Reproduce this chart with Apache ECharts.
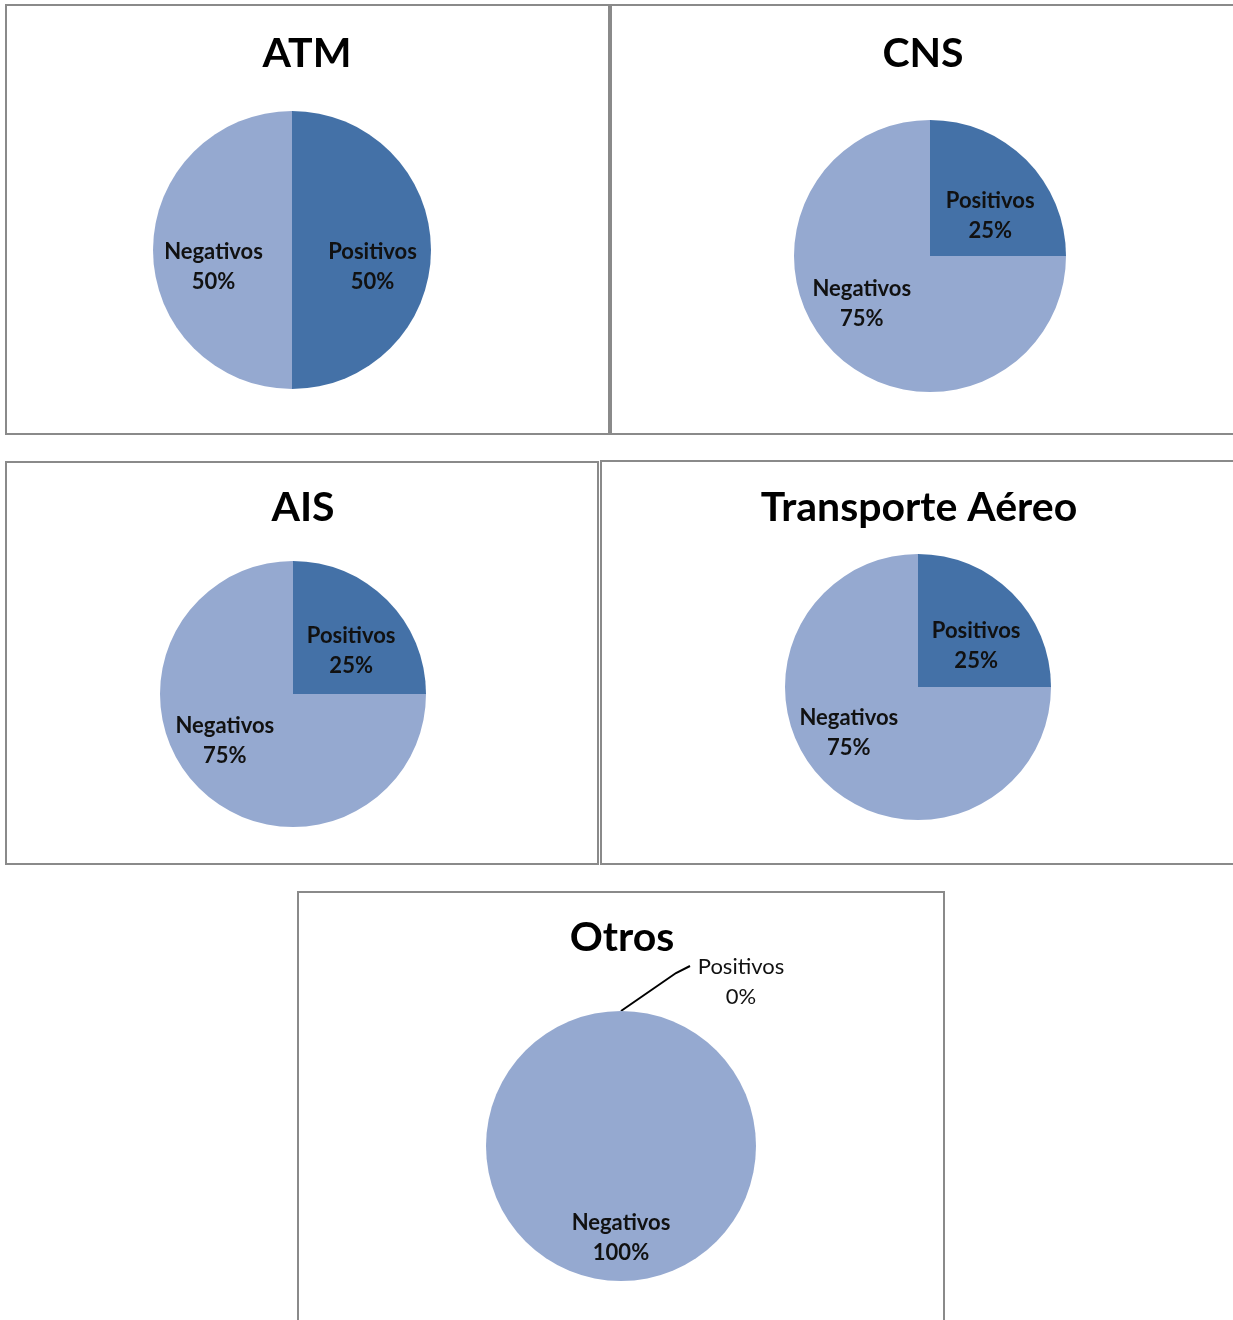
<!DOCTYPE html>
<html>
<head>
<meta charset="utf-8">
<script src="https://cdn.jsdelivr.net/npm/echarts@6/dist/echarts.min.js"></script>
<style>
  html, body { margin: 0; padding: 0; background: #fff; }
  #chart { width: 1233px; height: 1320px; }
</style>
</head>
<body>
<div id="chart"></div>
<script>
// datos
var categorias = ['Positivos', 'Negativos'];
var titulos = ['ATM', 'CNS', 'AIS', 'Transporte Aéreo', 'Otros'];
var atm = [50, 50];
var cns = [25, 75];
var ais = [25, 75];
var transporte = [25, 75];
var otros = [0, 100];

var colores = ['#4471A7', '#95A9D0'];
var fuente = 'Lato, "Open Sans", sans-serif';

// layout de cada recuadro
var paneles = [
  { datos: atm, centro: [292, 250], radio: 139, titulo: [302, 54], offs: [[8, 17], [-6, 17]] },
  { datos: cns, centro: [930, 256], radio: 136, titulo: [918, 54], offs: [[10, 10], [-18, -2]] },
  { datos: ais, centro: [293, 694], radio: 133, titulo: [298, 508], offs: [[9, 6], [-19, -2]] },
  { datos: transporte, centro: [918, 687], radio: 133, titulo: [914, 508], offs: [[9, 8], [-20, -3]] },
  { datos: otros, centro: [621, 1146], radio: 135, titulo: [617, 938], offs: [[0, 0], [0, 21]] }
];

var chart = echarts.init(document.getElementById('chart'));

var titles = [];
var series = [];
paneles.forEach(function (p, i) {
  titles.push({
    text: titulos[i],
    left: p.titulo[0],
    top: p.titulo[1] - 26,
    textAlign: 'center',
    textStyle: { fontFamily: fuente, fontSize: 41, fontWeight: 'bold', color: '#000' }
  });
  var data = categorias.map(function (c, k) {
    var item = {
      name: c,
      value: p.datos[k],
      itemStyle: { color: colores[k] },
      label: { offset: p.offs[k] }
    };
    if (p.datos[k] === 0) {
      item.label = {
        position: 'outside',
        fontWeight: 'normal',
        align: 'center'
      };
      item.labelLine = { show: true, length: 30, length2: 15, lineStyle: { color: '#000', width: 2 } };
    }
    return item;
  });
  var s = {
    type: 'pie',
    center: p.centro,
    radius: p.radio,
    startAngle: 90,
    clockwise: true,
    silent: true,
    itemStyle: { borderWidth: 0 },
    label: {
      show: true,
      position: 'inside',
      formatter: '{b}\n{c}%',
      fontFamily: fuente,
      fontSize: 22,
      fontWeight: 'bold',
      lineHeight: 30,
      color: '#111'
    },
    labelLine: { show: false },
    data: data
  };
  if (i === 4) {
    // etiqueta de la porción 0% fuera del círculo, con línea guía
    var cx = p.centro[0], top = p.centro[1] - p.radio;
    s.labelLayout = function (params) {
      if (params.dataIndex === 0) {
        return {
          x: cx + 120, y: top - 29, align: 'center', verticalAlign: 'middle',
          labelLinePoints: [[cx, top], [cx + 55, top - 38], [cx + 69, top - 45]]
        };
      }
    };
  }
  series.push(s);
});

var marcos = [
  [6, 5, 603, 429],
  [611, 5, 640, 429],
  [6, 462, 592, 402],
  [601, 461, 640, 403],
  [298, 892, 646, 450]
];

var option = {
  animation: false,
  backgroundColor: '#fff',
  title: titles,
  graphic: marcos.map(function (m) {
    return {
      type: 'rect',
      shape: { x: m[0], y: m[1], width: m[2], height: m[3] },
      style: { fill: 'none', stroke: '#8a8a8a', lineWidth: 2 },
      silent: true
    };
  }),
  series: series
};
chart.setOption(option);
</script>
</body>
</html>
